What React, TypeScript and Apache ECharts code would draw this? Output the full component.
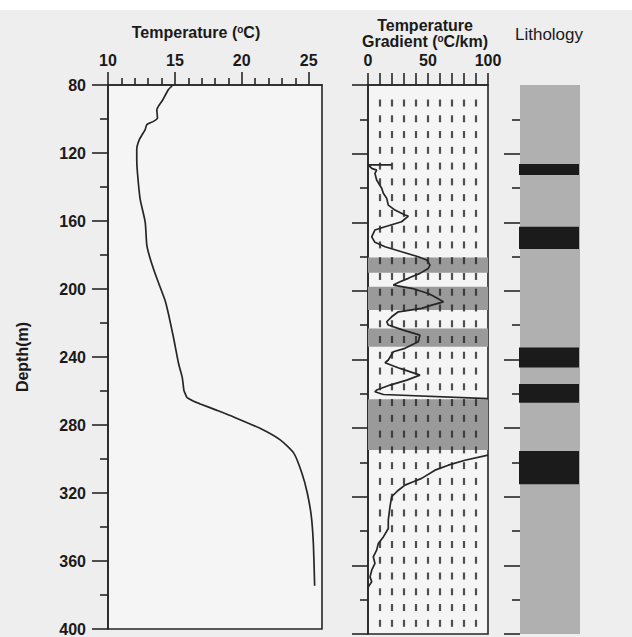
import React, { useEffect, useRef } from 'react';
import * as echarts from 'echarts';

// ---- data ----
const tempTickLabels = [10, 15, 20, 25];
const tempMinorTicks = [11, 12, 13, 14, 16, 17, 18, 19, 21, 22, 23, 24];
const gradTickLabels = [0, 50, 100];
const lithMajorTicks = [120, 160, 200, 240, 280, 320, 360, 400];
const lithMinorTicks = [100, 140, 180, 220, 260, 300, 340, 380];

const tempDepth = [80, 82.9, 88.7, 94.6, 99.4, 101.4, 103.3, 106.2, 112, 118, 124, 131.5, 147, 160.6, 174, 182, 193.7, 207, 215, 228.7, 244, 252, 259.8, 261.7, 263.7, 266, 267.6, 271.4, 275.3, 282.1, 288.9, 296.7, 308.4, 320, 333.6, 349.2, 374.5];
const tempValue = [14.85, 14.5, 14.1, 13.65, 13.7, 13.4, 12.9, 12.78, 12.35, 12.15, 12.15, 12.2, 12.4, 12.78, 12.9, 13.15, 13.65, 14.28, 14.53, 14.9, 15.28, 15.55, 15.68, 15.78, 15.9, 16.4, 16.9, 18.15, 19.4, 21.4, 22.9, 23.9, 24.5, 24.9, 25.2, 25.35, 25.45];

// null = curve leaves the 0-100 scale
const gradDepth = [126.6, 126.6, 128.6, 129.6, 131.5, 135.4, 140.2, 143.1, 146.1, 150, 152.9, 155.8, 156.4, 159.7, 162.6, 164.5, 168.5, 171.7, 174.3, 177.2, 180.1, 182, 185, 186.9, 189.8, 191.8, 192.7, 194.7, 196.6, 198.5, 201.5, 203, 206.4, 208.3, 210.2, 212.2, 215.1, 218, 219.9, 222.9, 225.8, 229.7, 233.5, 235.5, 240.3, 241.9, 245.2, 249.1, 252, 254.9, 257.8, 258.8, 260.4, 262.8, null, 295.7, 298.7, 301.6, 304.5, 309.3, 311.3, 313.2, 316.2, 320, 325.9, 333.6, 338.5, 343.4, 347.2, 351.1, 355, 358.9, 362.8, 366.7, 369.6, 372.5, 373.5];
const gradValue = [19.7, 0.3, 3.1, 7.2, 5.8, 7.2, 11.4, 12.8, 15.6, 16.9, 22.5, 30.8, 33.6, 28, 14.2, 5.8, 3.1, 5.8, 14.2, 28, 41.9, 48.9, 51.7, 50.2, 43.3, 36.4, 33.6, 26.7, 21.1, 36.4, 50.2, 54.4, 62.8, 53.1, 44.7, 25.3, 19.7, 15.6, 16.9, 29.4, 43.3, 41.9, 30.8, 21.1, 16.9, 14.2, 26.7, 43.3, 32.3, 18.3, 7.2, 5.8, 12.8, 100, null, 100, 80.8, 66.9, 55.8, 44.7, 37.8, 30.8, 25.3, 19.7, 18.3, 16.9, 16.9, 12.8, 8.6, 7.2, 4.4, 5.8, 3.1, 1.7, 3.1, 0.3, 0];

// shaded zones in the gradient panel
const bandTop = [180.5, 197.6, 221.9, 263.1];
const bandBottom = [189.4, 211.2, 232.6, 292.8];

// lithology: dark layers inside the grey column
const lithTop = [80, 126, 162.6, 233, 254.3, 293.4];
const lithBottom = [400, 132.4, 175.6, 244.6, 265.2, 312.7];
const lithType = [0, 1, 1, 1, 1, 1];

// dotted background pattern of the gradient panel
const dotColumns = [10, 20, 30, 40, 50, 60, 70, 80, 90];
const dotRowCount = 34;
const dotFirstRow = 90.5;
const dotRowStep = 9.19;

const FONT = 'Arial, "Liberation Sans", Helvetica, sans-serif';
const INK = '#1a1a1a';
const LINE = '#262626';

function buildOption() {
  const tempData = tempDepth.map((d, i) => [tempValue[i], d]);
  const gradData: any[] = gradDepth.map((d, i) => (d === null ? '-' : [gradValue[i], d]));
  const bandData = bandTop.map((t, i) => [t, bandBottom[i]]);
  const lithData = lithTop.map((t, i) => [t, lithBottom[i], lithType[i]]);
  const dots: number[][] = [];
  for (let r = 0; r < dotRowCount; r++) {
    const d = dotFirstRow + r * dotRowStep;
    dotColumns.forEach((c) => dots.push([c, d]));
  }

  const axisLine = { show: true, lineStyle: { color: LINE, width: 1.6 } };
  const tickStyle = { color: LINE, width: 1.6 };
  const labelStyle = { color: INK, fontFamily: FONT, fontWeight: 'bold' as const, fontSize: 16 };

  return {
    animation: false,
    backgroundColor: '#eeeeee',
    grid: [
      { left: 108, top: 85, width: 214, height: 549, show: true, borderColor: LINE, borderWidth: 1.6, backgroundColor: '#f5f5f5' },
      { left: 368, top: 85, width: 120, height: 549, show: true, borderColor: LINE, borderWidth: 1.6, backgroundColor: '#f5f5f5' },
      { left: 520, top: 85, width: 60, height: 549, show: false },
    ],
    xAxis: [
      {
        gridIndex: 0, type: 'value', position: 'top', min: 10, max: 26,
        axisLine, splitLine: { show: false },
        axisTick: { show: true, customValues: tempTickLabels, length: 13, lineStyle: tickStyle },
        axisLabel: { show: true, customValues: tempTickLabels, margin: 17, ...labelStyle },
      },
      {
        gridIndex: 0, type: 'value', position: 'top', min: 10, max: 26,
        axisLine: { show: false }, splitLine: { show: false },
        axisTick: { show: true, customValues: tempMinorTicks, length: 7, lineStyle: tickStyle },
        axisLabel: { show: false },
      },
      {
        gridIndex: 1, type: 'value', position: 'top', min: 0, max: 100, interval: 10,
        axisLine, splitLine: { show: false },
        axisTick: { show: true, length: 12, lineStyle: tickStyle },
        axisLabel: { show: true, customValues: gradTickLabels, margin: 17, ...labelStyle },
      },
      { gridIndex: 2, type: 'value', min: 0, max: 1, show: false },
    ],
    yAxis: [
      {
        gridIndex: 0, type: 'value', position: 'left', inverse: true, min: 80, max: 400, interval: 40,
        axisLine, splitLine: { show: false },
        axisTick: { show: true, length: 16, lineStyle: tickStyle },
        minorTick: { show: true, splitNumber: 2, length: 8, lineStyle: tickStyle },
        minorSplitLine: { show: false },
        axisLabel: { show: true, margin: 22, ...labelStyle },
        name: 'Depth(m)', nameLocation: 'middle', nameGap: 78, nameRotate: 90,
        nameTextStyle: { color: INK, fontFamily: FONT, fontWeight: 'bold', fontSize: 16 },
      },
      {
        gridIndex: 1, type: 'value', position: 'left', inverse: true, min: 80, max: 400, interval: 40,
        axisLine, splitLine: { show: false },
        axisTick: { show: true, length: 16, lineStyle: tickStyle },
        minorTick: { show: true, splitNumber: 2, length: 8, lineStyle: tickStyle },
        minorSplitLine: { show: false },
        axisLabel: { show: false },
      },
      {
        gridIndex: 2, type: 'value', position: 'left', inverse: true, min: 80, max: 400,
        axisLine: { show: false }, splitLine: { show: false },
        axisTick: { show: true, customValues: lithMajorTicks, length: 16, lineStyle: tickStyle },
        axisLabel: { show: false },
      },
      {
        gridIndex: 2, type: 'value', position: 'left', inverse: true, min: 80, max: 400,
        axisLine: { show: false }, splitLine: { show: false },
        axisTick: { show: true, customValues: lithMinorTicks, length: 8, lineStyle: tickStyle },
        axisLabel: { show: false },
      },
    ],
    series: [
      {
        type: 'line', name: 'Temperature', xAxisIndex: 0, yAxisIndex: 0,
        data: tempData, showSymbol: false, smooth: 0.2,
        lineStyle: { color: LINE, width: 1.7 }, z: 5,
      },
      {
        type: 'custom', name: 'Zones', xAxisIndex: 2, yAxisIndex: 1, data: bandData, z: 1,
        encode: { y: [0, 1] },
        renderItem: (_p: any, api: any) => {
          const a = api.coord([0, api.value(0)]);
          const b = api.coord([100, api.value(1)]);
          return { type: 'rect', shape: { x: a[0], y: a[1], width: b[0] - a[0], height: b[1] - a[1] }, style: { fill: '#9a9a9a' } };
        },
      },
      {
        type: 'scatter', name: 'pattern', xAxisIndex: 2, yAxisIndex: 1, data: dots,
        symbol: 'rect', symbolSize: [2.2, 7], itemStyle: { color: '#262626' }, silent: true, z: 2,
      },
      {
        type: 'line', name: 'Gradient', xAxisIndex: 2, yAxisIndex: 1,
        data: gradData, showSymbol: false, connectNulls: false,
        lineStyle: { color: LINE, width: 1.7 }, z: 5,
      },
      {
        type: 'custom', name: 'Lithology', xAxisIndex: 3, yAxisIndex: 2, data: lithData, z: 1,
        encode: { y: [0, 1] },
        renderItem: (_p: any, api: any) => {
          const a = api.coord([0, api.value(0)]);
          const b = api.coord([1, api.value(1)]);
          const dark = api.value(2) === 1;
          return {
            type: 'rect',
            shape: { x: a[0] - (dark ? 1 : 0), y: a[1], width: b[0] - a[0], height: b[1] - a[1] },
            style: { fill: dark ? '#1b1b1b' : '#b0b0b0' },
          };
        },
      },
    ],
    graphic: [
      { type: 'rect', shape: { x: 0, y: 0, width: 632, height: 10 }, style: { fill: '#ffffff' }, silent: true },
      {
        type: 'text', x: 196, y: 32,
        style: {
          text: 'Temperature ({s|o}C)', align: 'center', verticalAlign: 'middle',
          fill: INK, font: `bold 16px ${FONT}`,
          rich: { s: { fontSize: 10, fontWeight: 'bold', fill: INK, verticalAlign: 'top', lineHeight: 10 } },
        },
      },
      {
        type: 'text', x: 425, y: 25,
        style: { text: 'Temperature', align: 'center', verticalAlign: 'middle', fill: INK, font: `bold 16px ${FONT}` },
      },
      {
        type: 'text', x: 425, y: 41,
        style: {
          text: 'Gradient ({s|o}C/km)', align: 'center', verticalAlign: 'middle',
          fill: INK, font: `bold 16px ${FONT}`,
          rich: { s: { fontSize: 10, fontWeight: 'bold', fill: INK, verticalAlign: 'top', lineHeight: 10 } },
        },
      },
      {
        type: 'text', x: 549, y: 34,
        style: { text: 'Lithology', align: 'center', verticalAlign: 'middle', fill: INK, font: `17px ${FONT}` },
      },
    ],
  };
}

export default function App() {
  const ref = useRef<HTMLDivElement>(null);
  useEffect(() => {
    if (!ref.current) return;
    const chart = echarts.init(ref.current, null, { renderer: 'svg' });
    chart.setOption(buildOption() as any);
    return () => chart.dispose();
  }, []);
  return <div ref={ref} style={{ position: 'absolute', left: 0, top: 0, width: 632, height: 637 }} />;
}
